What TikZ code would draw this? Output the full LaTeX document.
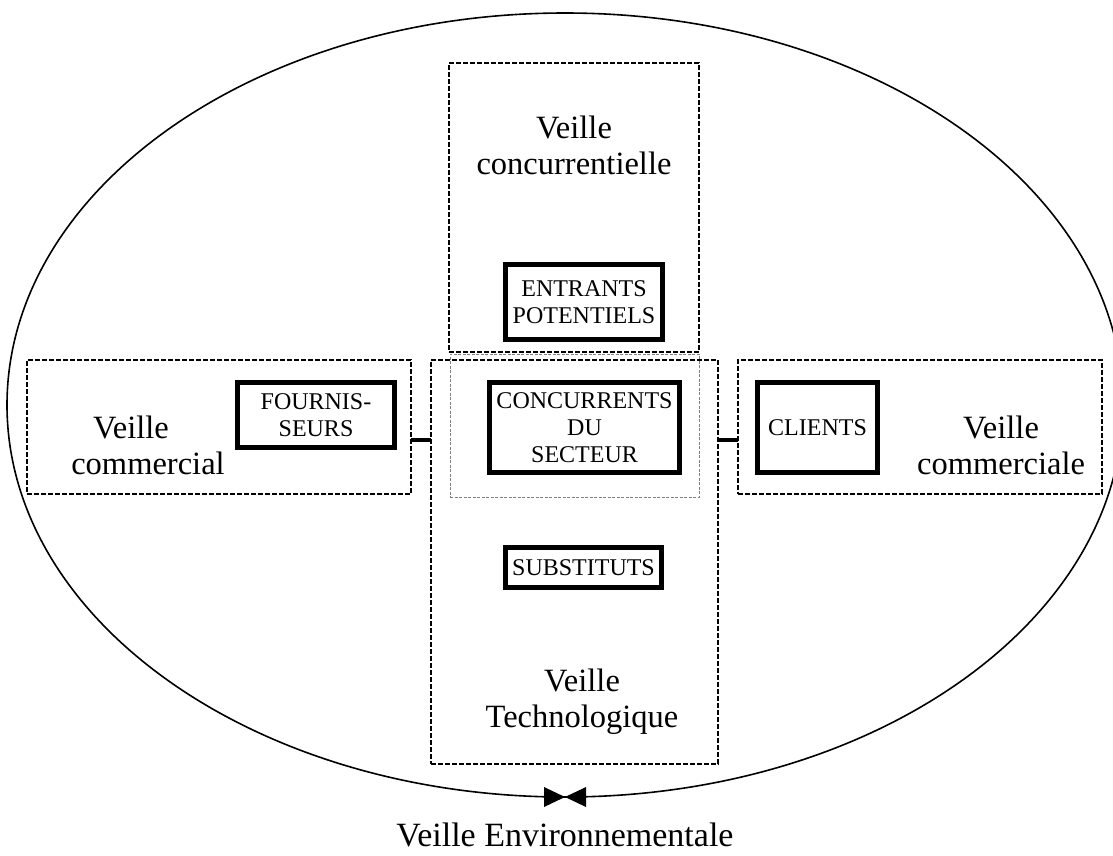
\documentclass[tikz,border=0pt]{standalone}
\usepackage{fontspec}
\setmainfont{Liberation Serif}
\usetikzlibrary{positioning,fit,shapes,calc}

\begin{document}
\begin{tikzpicture}[x=1pt,y=-1pt,
    every node/.style={inner sep=0pt,outer sep=0pt},
    veille/.style={draw,line width=1.6pt,dash pattern=on 5pt off 2pt},
    gris/.style={draw=gray,line width=1pt,dash pattern=on 3pt off 1.5pt},
    acteur/.style={draw,line width=5pt,align=center,font=\fontsize{24}{27}\selectfont},
    titre/.style={align=center,font=\fontsize{32.5}{36}\selectfont},
    lien/.style={line width=4pt}
    ]
    \useasboundingbox (0,0) rectangle (1113,855);

    % the environment
    \draw[line width=1.6pt] (565,405) ellipse [x radius=558pt, y radius=392pt];

    % the zones
    \node (vc) [veille,minimum width=250,minimum height=289] at (574,207.5) {};
    \node (vt) [veille,minimum width=287,minimum height=404] at (574.5,562) {};
    \node (vl) [veille,minimum width=384,minimum height=134] at (219,427) {};
    \node (vr) [veille,minimum width=364,minimum height=134] at (920,427) {};
    \node (sec) [gris,minimum width=249,minimum height=143] at (574.5,425.5) {};

    \node (vcl) [titre] at (574,145) {Veille\\concurrentielle};
    \node (vtl) [titre] at (582,702) {Veille\\Technologique};
    \node (vll) [titre] at (148,445) {Veille\hspace*{1.05em}\\commercial};
    \node (vrl) [titre] at (1001,445) {Veille\\commerciale};

    % the actors
    \node (ent) [acteur,minimum width=157,minimum height=75] at (584,302) {ENTRANTS\\POTENTIELS};
    \node (con) [acteur,minimum width=190,minimum height=90] at (584.5,427.5) {CONCURRENTS\\DU\\SECTEUR};
    \node (sub) [acteur,minimum width=156,minimum height=40] at (583.5,567.5) {SUBSTITUTS};
    \node (fou) [acteur,minimum width=157,minimum height=65] at (316,415) {FOURNIS-\\SEURS};
    \node (cli) [acteur,minimum width=120,minimum height=90] at (817.5,427.5) {CLIENTS};

    % the links
    \draw[lien] ([yshift=-13pt]vl.east) -- ([yshift=-13pt]vl.east -| vt.west);
    \draw[lien] ([yshift=-13pt]vr.west) -- ([yshift=-13pt]vr.west -| vt.east);

    % the environment label
    \coordinate (env) at (565,797);
    \fill (env) -- ++(-21,-10) -- ++(0,20) -- cycle;
    \fill (env) -- ++(21,-10) -- ++(0,20) -- cycle;
    \node (envl) [titre,font=\fontsize{34}{38}\selectfont] at (565,835) {Veille Environnementale};
\end{tikzpicture}
\end{document}
